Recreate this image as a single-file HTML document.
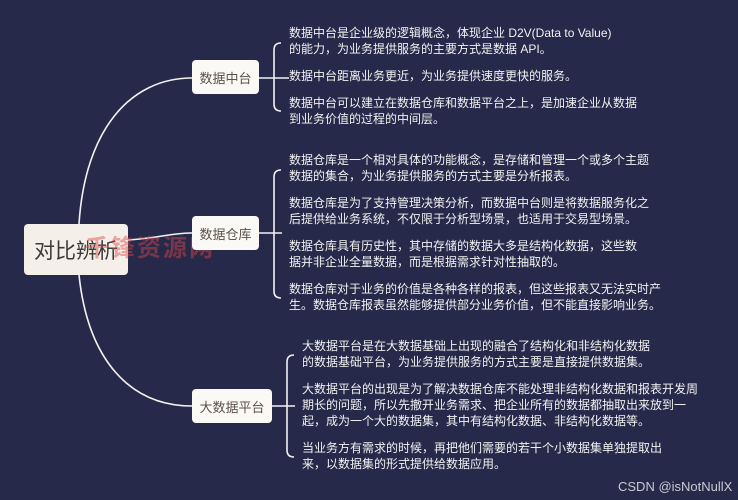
<!DOCTYPE html>
<html><head><meta charset="utf-8"><style>
body{margin:0;width:738px;height:500px;background:#27294a;position:relative;overflow:hidden;font-family:"Liberation Sans","Noto Sans CJK SC",sans-serif}
.t{position:absolute;color:#f2f2f2;font-size:12px;white-space:nowrap;line-height:16px}
.box{position:absolute;background:#fbf9f6;border-radius:4px;color:#5d5148;font-size:13px;display:flex;align-items:center;justify-content:center}
</style></head><body>
<svg width="738" height="500" style="position:absolute;left:0;top:0" fill="none" stroke="#f2f2f2" stroke-width="1.6">
<path d="M79,224 C85,130 130,78 192,78"/>
<path d="M128,240 C160,238 170,233 192,233"/>
<path d="M79,275 C88,360 130,406 192,406"/>
<path d="M259,78 L289,78"/>
<path d="M281,43 Q274,43 274,50 L274,104 Q274,111 281,111"/>
<path d="M259,233 L282,233"/>
<path d="M281,170 Q274,170 274,177 L274,291 Q274,298 281,298"/>
<path d="M272,406 L295,406"/>
<path d="M294,355 Q287,355 287,362 L287,450 Q287,457 294,457"/>
</svg>
<div class="box" style="left:24px;top:224px;width:104px;height:51px;font-size:21px;color:#3c3a3a;background:#f4efe8">对比辨析</div>
<div style="position:absolute;left:85px;top:228px;font-size:24px;font-weight:bold;color:rgba(220,70,70,0.45);letter-spacing:2px">千锋资源网</div>
<div class="box" style="left:192px;top:60px;width:67px;height:34px">数据中台</div>
<div class="box" style="left:192px;top:216px;width:67px;height:34px">数据仓库</div>
<div class="box" style="left:192px;top:389px;width:80px;height:34px">大数据平台</div>

<div class="t" style="left:289px;top:25px">数据中台是企业级的逻辑概念，体现企业 D2V(Data to Value)</div>
<div class="t" style="left:289px;top:41px">的能力，为业务提供服务的主要方式是数据 API。</div>
<div class="t" style="left:289px;top:68px">数据中台距离业务更近，为业务提供速度更快的服务。</div>
<div class="t" style="left:289px;top:95px">数据中台可以建立在数据仓库和数据平台之上，是加速企业从数据</div>
<div class="t" style="left:289px;top:111px">到业务价值的过程的中间层。</div>

<div class="t" style="left:289px;top:152px">数据仓库是一个相对具体的功能概念，是存储和管理一个或多个主题</div>
<div class="t" style="left:289px;top:168px">数据的集合，为业务提供服务的方式主要是分析报表。</div>
<div class="t" style="left:289px;top:195px">数据仓库是为了支持管理决策分析，而数据中台则是将数据服务化之</div>
<div class="t" style="left:289px;top:211px">后提供给业务系统，不仅限于分析型场景，也适用于交易型场景。</div>
<div class="t" style="left:289px;top:238px">数据仓库具有历史性，其中存储的数据大多是结构化数据，这些数</div>
<div class="t" style="left:289px;top:254px">据并非企业全量数据，而是根据需求针对性抽取的。</div>
<div class="t" style="left:289px;top:281px">数据仓库对于业务的价值是各种各样的报表，但这些报表又无法实时产</div>
<div class="t" style="left:289px;top:297px">生。数据仓库报表虽然能够提供部分业务价值，但不能直接影响业务。</div>

<div class="t" style="left:302px;top:338px">大数据平台是在大数据基础上出现的融合了结构化和非结构化数据</div>
<div class="t" style="left:302px;top:354px">的数据基础平台，为业务提供服务的方式主要是直接提供数据集。</div>
<div class="t" style="left:302px;top:381px">大数据平台的出现是为了解决数据仓库不能处理非结构化数据和报表开发周</div>
<div class="t" style="left:302px;top:397px">期长的问题，所以先撤开业务需求、把企业所有的数据都抽取出来放到一</div>
<div class="t" style="left:302px;top:413px">起，成为一个大的数据集，其中有结构化数据、非结构化数据等。</div>
<div class="t" style="left:302px;top:440px">当业务方有需求的时候，再把他们需要的若干个小数据集单独提取出</div>
<div class="t" style="left:302px;top:456px">来，以数据集的形式提供给数据应用。</div>

<div class="t" style="left:618px;top:479px;font-size:13px;color:#c9c9d2">CSDN @isNotNullX</div>
</body></html>
